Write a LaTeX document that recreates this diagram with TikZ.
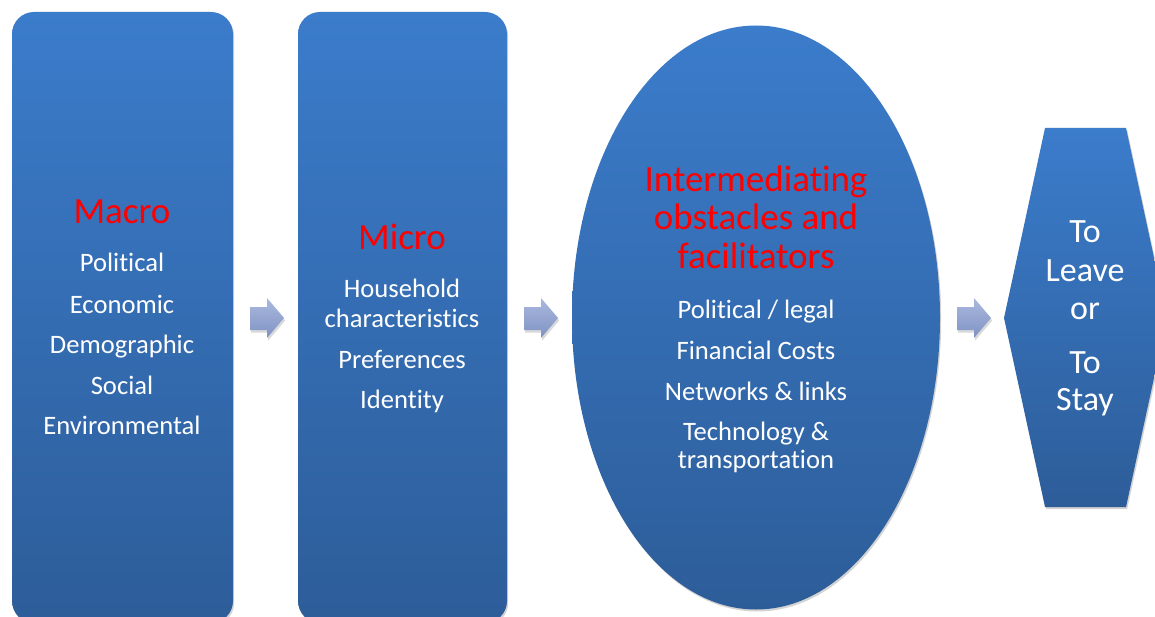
\documentclass[tikz,border=0pt]{standalone}
\usepackage{fontspec}
\setmainfont{Carlito}[Ligatures={NoCommon,NoContextual},RawFeature={-liga;-clig;-calt}]
\usetikzlibrary{shadows,fadings}
\definecolor{btop}{HTML}{3B7CCB}
\definecolor{bbot}{HTML}{2D5D99}
\definecolor{atop}{HTML}{AAB9DE}
\definecolor{abot}{HTML}{7F92C2}
\definecolor{ttl}{HTML}{FF0000}
\tikzset{
  shapefill/.style={top color=btop, bottom color=bbot, draw=none,
    drop shadow={shadow xshift=1.2pt, shadow yshift=-2pt, opacity=0.35}},
  arrowfill/.style={top color=atop, bottom color=abot, draw=none,
    drop shadow={shadow xshift=1.2pt, shadow yshift=-2.5pt, opacity=0.3}},
  title/.style={anchor=base, text=ttl, font=\fontsize{37}{37}\selectfont, inner sep=0pt},
  item/.style={anchor=base, text=white, font=\fontsize{26.6}{26.6}\selectfont, inner sep=0pt},
  hexitem/.style={anchor=base, text=white, font=\fontsize{34}{34}\selectfont, inner sep=0pt},
}
\begin{document}
\begin{tikzpicture}[x=1pt,y=1pt]
\useasboundingbox (0,0) rectangle (1155,-617);
\clip (0,0) rectangle (1155,-617);
% shapes
\path[shapefill, rounded corners=22pt] (12,-12) rectangle (233,-623);
\path[shapefill, rounded corners=22pt] (298,-12) rectangle (507,-623);
\path[shapefill] (756,-317.5) ellipse [x radius=184, y radius=292];
\path[shapefill] (1004,-318) -- (1045,-128) -- (1126,-128) -- (1167,-318) -- (1126,-507) -- (1045,-507) -- cycle;
% arrows
\foreach \ax in {250,524,957}{
  \path[arrowfill] (\ax,-307) -- (\ax+17,-307) -- (\ax+17,-298) -- (\ax+34,-318) -- (\ax+17,-338) -- (\ax+17,-330) -- (\ax,-330) -- cycle;
}
% box 1
\node[title] (macro) at (122,-224) {Macro};
\node[item] (pol) at (122,-272) {Political};
\node[item] (eco) at (122,-313) {Economic};
\node[item] (dem) at (122,-353) {Demographic};
\node[item] (soc) at (122,-394) {Social};
\node[item] (env) at (122,-434) {Environmental};
% box 2
\node[title] (micro) at (402,-250) {Micro};
\node[item] (hh) at (402,-298) {Household};
\node[item] (ch) at (402,-327) {characteristics};
\node[item] (pref) at (402,-368) {Preferences};
\node[item] (ident) at (402,-408) {Identity};
% ellipse
\node[title] (i1) at (756,-192) {Intermediating};
\node[title] (i2) at (756,-230) {obstacles and};
\node[title] (i3) at (756,-269) {facilitators};
\node[item] (e1) at (756,-318) {Political / legal};
\node[item] (e2) at (756,-359) {Financial Costs};
\node[item] (e3) at (756,-400) {Networks \& links};
\node[item] (e4) at (756,-440) {Technology \&};
\node[item] (e5) at (756,-468) {transportation};
% hexagon
\node[hexitem] (h1) at (1085,-243) {To};
\node[hexitem] (h2) at (1085,-282) {Leave};
\node[hexitem] (h3) at (1085,-319) {or};
\node[hexitem] (h4) at (1085,-373) {To};
\node[hexitem] (h5) at (1085,-410) {Stay};
\end{tikzpicture}
\end{document}
